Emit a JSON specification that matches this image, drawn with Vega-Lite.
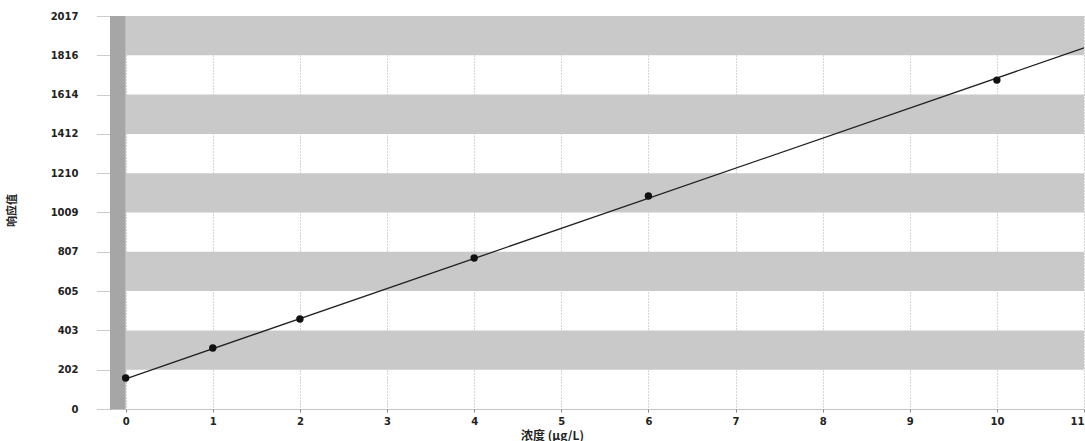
{
  "$schema": "https://vega.github.io/schema/vega-lite/v6.json",
  "width": 974,
  "height": 393,
  "autosize": {"type": "none"},
  "padding": {"left": 110, "top": 16, "right": 1, "bottom": 32},
  "background": "white",
  "config": {"view": {"stroke": null}},
  "datasets": {
    "bands": [
      {"lo": 202, "hi": 403},
      {"lo": 605, "hi": 807},
      {"lo": 1009, "hi": 1210},
      {"lo": 1412, "hi": 1614},
      {"lo": 1816, "hi": 2017}
    ],
    "wall": [
      {"from": -0.18, "to": 0, "lo": 0, "hi": 2017}
    ],
    "points": [
      {"c": 0, "v": 159},
      {"c": 1, "v": 313},
      {"c": 2, "v": 462},
      {"c": 4, "v": 775},
      {"c": 6, "v": 1093},
      {"c": 10, "v": 1688}
    ],
    "fit": [
      {"c": 0, "v": 155},
      {"c": 11, "v": 1853}
    ]
  },
  "layer": [
    {
      "data": {"name": "bands"},
      "mark": {"type": "rect", "color": "#c9c9c9"},
      "encoding": {
        "x": {"datum": 0, "type": "quantitative", "scale": {"domain": [-0.18, 11], "nice": false, "zero": false},
          "axis": {
            "values": [0, 1, 2, 3, 4, 5, 6, 7, 8, 9, 10, 11],
            "tickCount": 30,
            "format": "d",
            "labelOverlap": false,
            "title": "浓度 (μg/L)",
            "titleFont": "Noto Sans CJK SC", "titleFontSize": 12, "titleFontWeight": "bold", "titleColor": "#222",
            "titleX": 442, "titleY": 26, "titleBaseline": "middle",
            "labelFont": "DejaVu Sans", "labelFontSize": 10, "labelFontWeight": "bold", "labelColor": "#222",
            "labelPadding": 4, "labelFlush": true,
            "domainColor": "#888", "domainDash": [1, 1], "domainWidth": 1,
            "tickSize": 3, "tickColor": "#888",
            "grid": true, "gridColor": "#aaa", "gridDash": [1, 2], "gridWidth": 1
          }},
        "x2": {"datum": 11},
        "y": {"field": "lo", "type": "quantitative", "scale": {"domain": [0, 2017], "nice": false},
          "axis": {
            "values": [0, 202, 403, 605, 807, 1009, 1210, 1412, 1614, 1816, 2017],
            "tickCount": 30,
            "format": "d",
            "labelOverlap": false,
            "title": "响应值",
            "titleFont": "Noto Sans CJK SC", "titleFontSize": 11, "titleFontWeight": "bold", "titleColor": "#222",
            "titleX": -93, "titleY": 194, "titleAngle": -90,
            "labelFont": "DejaVu Sans", "labelFontSize": 10, "labelFontWeight": "bold", "labelColor": "#222",
            "labelPadding": 19, "labelFlush": false,
            "domain": false,
            "tickSize": 13, "tickColor": "#999", "tickDash": [1, 1],
            "grid": false
          }},
        "y2": {"field": "hi"}
      }
    },
    {
      "data": {"name": "wall"},
      "mark": {"type": "rect", "color": "#a6a6a6"},
      "encoding": {
        "x": {"field": "from", "type": "quantitative"},
        "x2": {"field": "to"},
        "y": {"field": "lo", "type": "quantitative"},
        "y2": {"field": "hi"}
      }
    },
    {
      "data": {"name": "fit"},
      "mark": {"type": "line", "color": "#222", "strokeWidth": 1.3},
      "encoding": {
        "x": {"field": "c", "type": "quantitative"},
        "y": {"field": "v", "type": "quantitative"}
      }
    },
    {
      "data": {"name": "points"},
      "mark": {"type": "point", "filled": true, "color": "#111", "size": 55, "opacity": 1},
      "encoding": {
        "x": {"field": "c", "type": "quantitative"},
        "y": {"field": "v", "type": "quantitative"}
      }
    }
  ]
}
